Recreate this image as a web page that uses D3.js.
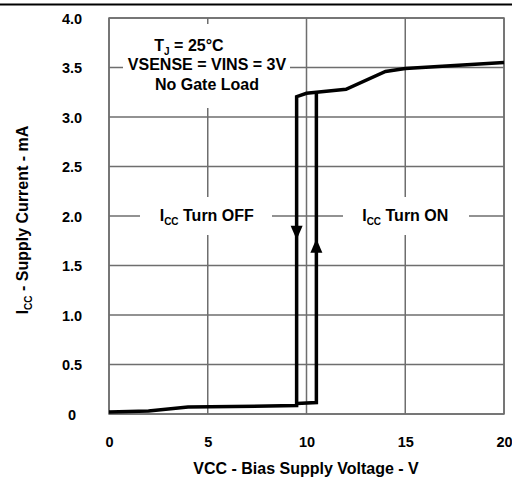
<!DOCTYPE html>
<html><head><meta charset="utf-8">
<script src="https://cdn.jsdelivr.net/npm/d3@7"></script>
<style>
html,body{margin:0;padding:0;background:#fff;}
svg{display:block;font-family:"Liberation Sans",Arial,sans-serif;font-weight:bold;}
</style></head>
<body>
<svg id="c" width="512" height="477"></svg>
<script>
// Data
const xTicks = [0, 5, 10, 15, 20];
const xTickLabels = ["0", "5", "10", "15", "20"];
const yTicks = [0, 0.5, 1.0, 1.5, 2.0, 2.5, 3.0, 3.5, 4.0];
const yTickLabels = ["0", "0.5", "1.0", "1.5", "2.0", "2.5", "3.0", "3.5", "4.0"];
// Turn-off path (VCC decreasing) – V, mA
const offV = [20, 17.5, 15, 14, 12, 10.5, 10, 9.5, 9.5, 4, 2, 0];
const offI = [3.55, 3.52, 3.49, 3.46, 3.28, 3.25, 3.24, 3.205, 0.085, 0.07, 0.03, 0.02];
// Turn-on path (VCC increasing) – V, mA
const onV = [9.5, 10.5, 10.5];
const onI = [0.105, 0.115, 3.25];
// Arrow markers: V, tip current, direction
const arrowV = [9.5, 10.5];
const arrowI = [1.76, 1.77];
const arrowDir = ["down", "up"];

const svg = d3.select("#c");
const x = d3.scaleLinear().domain([0, 20]).range([109, 504]);
const y = d3.scaleLinear().domain([0, 4]).range([414, 18]);
const gridColor = "#6e6e6e";
const FONT = "Liberation Sans, Arial, sans-serif";

// top rule
svg.append("line").attr("x1", 0).attr("x2", 512).attr("y1", 4.5).attr("y2", 4.5)
  .attr("stroke", "#000").attr("stroke-width", 2);

// gridlines
const g = svg.append("g");
g.selectAll("line.v").data(xTicks).join("line")
  .attr("x1", d => x(d)).attr("x2", d => x(d)).attr("y1", y(0)).attr("y2", y(4))
  .attr("stroke", gridColor).attr("stroke-width", 1.5);
g.selectAll("line.h").data(yTicks).join("line")
  .attr("x1", x(0)).attr("x2", x(20)).attr("y1", d => y(d)).attr("y2", d => y(d))
  .attr("stroke", gridColor).attr("stroke-width", 1.5);

// axes (labels only)
const xAxis = d3.axisBottom(x).tickValues(xTicks).tickFormat((d, i) => xTickLabels[i]).tickSize(0).tickPadding(0);
const xa = svg.append("g").attr("transform", "translate(0,447)").call(xAxis);
xa.select(".domain").remove();
xa.selectAll("text").attr("font-size", 14.5).attr("font-weight", "bold").attr("fill", "#000")
  .attr("font-family", FONT).attr("dy", 0).attr("y", 0);

const yAxis = d3.axisLeft(y).tickValues(yTicks).tickFormat((d, i) => yTickLabels[i]).tickSize(0).tickPadding(0);
const ya = svg.append("g").attr("transform", "translate(72,0)").call(yAxis);
ya.select(".domain").remove();
ya.selectAll("text").attr("font-size", 14.5).attr("font-weight", "bold").attr("fill", "#000")
  .attr("font-family", FONT).attr("text-anchor", "middle").attr("x", 0).attr("dy", "0.36em");

// white boxes behind labels (breaking the grid)
svg.append("rect").attr("x", 123).attr("y", 24).attr("width", 167).attr("height", 84).attr("fill", "#fff");
svg.append("rect").attr("x", 140).attr("y", 197).attr("width", 132).attr("height", 38).attr("fill", "#fff");
svg.append("rect").attr("x", 343).attr("y", 197).attr("width", 126).attr("height", 38).attr("fill", "#fff");

// annotation
const ann = svg.append("g").attr("font-size", 16).attr("fill", "#000").attr("text-anchor", "middle");
const t1 = ann.append("text").attr("x", 189).attr("y", 51);
t1.append("tspan").text("T");
t1.append("tspan").attr("font-size", 10).attr("dy", 4).text("J");
t1.append("tspan").attr("dy", -4).text(" = 25°C");
ann.append("text").attr("x", 207).attr("y", 70).text("VSENSE = VINS = 3V");
ann.append("text").attr("x", 207).attr("y", 90).text("No Gate Load");

const offT = ann.append("text").attr("x", x(5) - 1).attr("y", 221);
offT.append("tspan").text("I");
offT.append("tspan").attr("font-size", 10).attr("dy", 4).text("CC");
offT.append("tspan").attr("dy", -4).text(" Turn OFF");
const onT = ann.append("text").attr("x", x(15)).attr("y", 221);
onT.append("tspan").text("I");
onT.append("tspan").attr("font-size", 10).attr("dy", 4).text("CC");
onT.append("tspan").attr("dy", -4).text(" Turn ON");

// frame
svg.append("rect").attr("x", x(0)).attr("y", y(4)).attr("width", x(20) - x(0)).attr("height", y(0) - y(4))
  .attr("fill", "none").attr("stroke", gridColor).attr("stroke-width", 1.5);

// curves
const line = d3.line().x(d => x(d[0])).y(d => y(d[1]));
svg.append("path").datum(offV.map((v, i) => [v, offI[i]])).attr("d", line)
  .attr("fill", "none").attr("stroke", "#000").attr("stroke-width", 3.5).attr("stroke-linejoin", "miter");
svg.append("path").datum(onV.map((v, i) => [v, onI[i]])).attr("d", line)
  .attr("fill", "none").attr("stroke", "#000").attr("stroke-width", 3.5).attr("stroke-linejoin", "miter");

// arrows
svg.selectAll("path.arrow").data(arrowV.map((v, i) => ({v, i: arrowI[i], d: arrowDir[i]}))).join("path")
  .attr("d", a => {
    const cx = x(a.v), ty = y(a.i);
    const s = a.d === "down" ? -1 : 1;
    return `M${cx},${ty} L${cx - 6},${ty + s * 14} L${cx + 6},${ty + s * 14} Z`;
  }).attr("fill", "#000");

// axis titles
svg.append("text").attr("x", 306).attr("y", 474).attr("text-anchor", "middle").attr("font-size", 16)
  .text("VCC - Bias Supply Voltage - V");
const yt = svg.append("text").attr("transform", "translate(28,220) rotate(-90)").attr("text-anchor", "middle").attr("font-size", 16);
yt.append("tspan").text("I");
yt.append("tspan").attr("font-size", 10).attr("dy", 4).text("CC");
yt.append("tspan").attr("dy", -4).text(" - Supply Current - mA");
</script>
</body></html>
